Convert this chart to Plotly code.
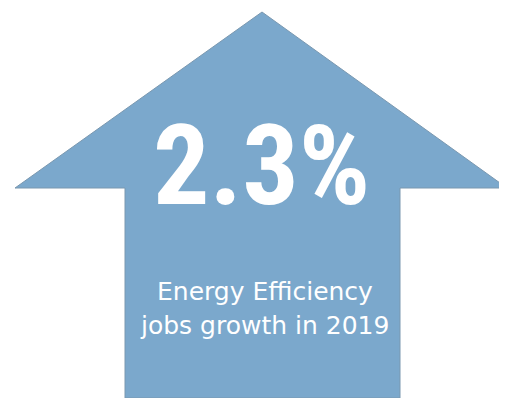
import plotly.graph_objects as go

# Arrow outline (vertices in pixel space of the infographic)
arrow_x = [262, 507, 400, 400, 125, 125, 15, 262]
arrow_y = [12, 188, 188, 398, 398, 188, 188, 12]

headline = "2.3%"
caption_lines = ["Energy Efficiency", "jobs growth in 2019"]

fig = go.Figure()
fig.add_trace(go.Scatter(
    x=arrow_x, y=arrow_y, mode="lines", fill="toself",
    fillcolor="#7BA8CC", line=dict(color="#7A98B0", width=1),
    hoverinfo="skip", showlegend=False,
))

fig.add_annotation(
    x=261, y=165, text=f"<b>{headline}</b>", showarrow=False,
    xanchor="center", yanchor="middle",
    font=dict(family="Roboto Condensed, DejaVu Sans Condensed, Liberation Sans Narrow, sans-serif",
              size=112, color="white"),
)
fig.add_annotation(
    x=265, y=291, text=caption_lines[0], showarrow=False,
    xanchor="center", yanchor="middle",
    font=dict(family="DejaVu Sans, sans-serif", size=25, color="white"),
)
fig.add_annotation(
    x=264, y=325, text=caption_lines[1], showarrow=False,
    xanchor="center", yanchor="middle",
    font=dict(family="DejaVu Sans, sans-serif", size=25, color="white"),
)

# page body has an 8px default margin; offset the ranges so data units equal screen pixels
fig.update_xaxes(range=[8, 515], visible=False, fixedrange=True)
fig.update_yaxes(range=[406, 8], visible=False, fixedrange=True)
fig.update_layout(
    width=507, height=398, margin=dict(l=0, r=0, t=0, b=0),
    paper_bgcolor="white", plot_bgcolor="white",
)
fig.write_html("out.html", config={"displayModeBar": False})
